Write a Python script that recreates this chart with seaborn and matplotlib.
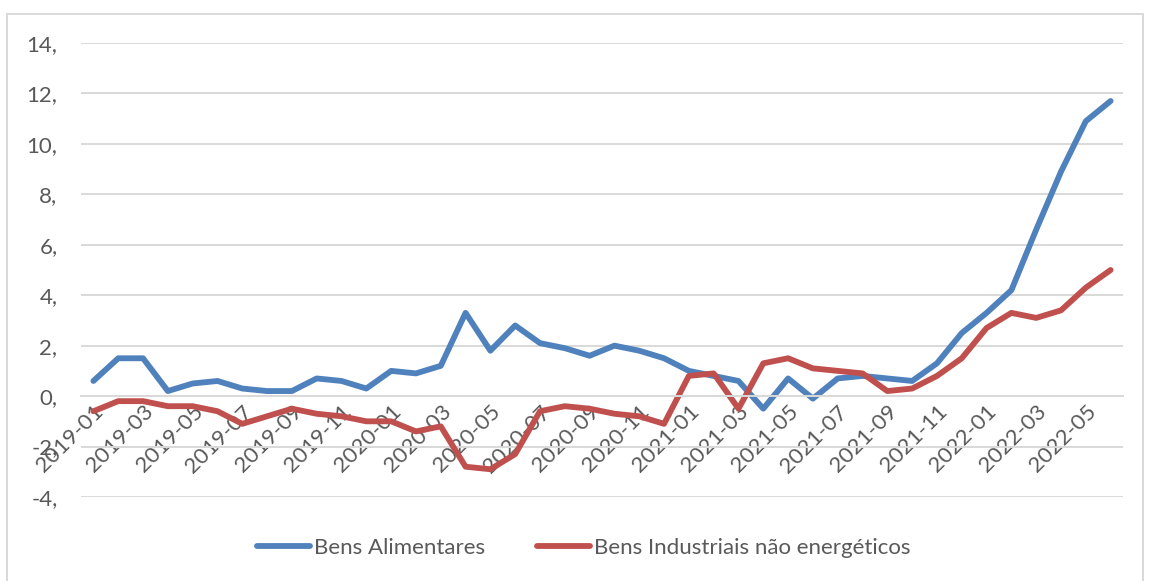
import pandas as pd
import numpy as np
import seaborn as sns
import matplotlib.pyplot as plt
from matplotlib.patches import Rectangle

months = pd.period_range("2019-01", "2022-06", freq="M").strftime("%Y-%m").tolist()

alimentares = [0.6, 1.5, 1.5, 0.2, 0.5, 0.6, 0.3, 0.2, 0.2, 0.7, 0.6, 0.3,
               1.0, 0.9, 1.2, 3.3, 1.8, 2.8, 2.1, 1.9, 1.6, 2.0, 1.8, 1.5,
               1.0, 0.8, 0.6, -0.5, 0.7, -0.1, 0.7, 0.8, 0.7, 0.6, 1.3, 2.5,
               3.3, 4.2, 6.6, 8.9, 10.9, 11.7]
industriais = [-0.6, -0.2, -0.2, -0.4, -0.4, -0.6, -1.1, -0.8, -0.5, -0.7, -0.8, -1.0,
               -1.0, -1.4, -1.2, -2.8, -2.9, -2.3, -0.6, -0.4, -0.5, -0.7, -0.8, -1.1,
               0.8, 0.9, -0.5, 1.3, 1.5, 1.1, 1.0, 0.9, 0.2, 0.3, 0.8, 1.5,
               2.7, 3.3, 3.1, 3.4, 4.3, 5.0]
series_names = ["Bens Alimentares", "Bens Industriais não energéticos"]
yticks = [-4, -2, 0, 2, 4, 6, 8, 10, 12, 14]

df = pd.DataFrame({"mes": months, series_names[0]: alimentares, series_names[1]: industriais})
df["pos"] = np.arange(len(df))
long_df = df.melt(id_vars=["mes", "pos"], var_name="serie", value_name="valor")

sns.set_style("white")
plt.rcParams["font.family"] = ["Lato", "DejaVu Sans"]
grey = "#595959"
fs = 16

fig = plt.figure(figsize=(11.49, 5.81), dpi=100)
ax = fig.add_axes([0.0705, 0.1446, 0.9069, 0.7814])

sns.lineplot(data=long_df, x="pos", y="valor", hue="serie",
             palette=["#4F81BD", "#C0504D"], linewidth=4.2, ax=ax, legend=False)
for ln in ax.lines:
    ln.set_solid_capstyle("round")
    ln.set_solid_joinstyle("round")

ax.set_xlim(-0.5, len(months) - 0.5)
ax.set_ylim(-4, 14)
ax.set_yticks(yticks)
ax.set_yticklabels([f"{v}," for v in yticks], color=grey, fontsize=fs)
ax.yaxis.grid(True, color="#D9D9D9", linewidth=1.4)
ax.set_axisbelow(True)
ax.tick_params(axis="y", length=0, pad=17)

ax.spines["bottom"].set_position(("data", 0))
ax.spines["bottom"].set_color("#D9D9D9")
ax.spines["bottom"].set_linewidth(1.4)
for s in ["top", "right", "left"]:
    ax.spines[s].set_visible(False)
xt = df["pos"].tolist()[::2]
ax.set_xticks(xt)
ax.set_xticklabels(months[::2], rotation=45, ha="right", rotation_mode="anchor",
                   color=grey, fontsize=fs)
ax.tick_params(axis="x", length=0, pad=4)
ax.set_xlabel("")
ax.set_ylabel("")

handles = [plt.Line2D([], [], color=c, linewidth=4.2, solid_capstyle="round")
           for c in ["#4F81BD", "#C0504D"]]
fig.legend(handles, series_names, loc="center", bbox_to_anchor=(0.508, 1 - 548 / 581),
           ncol=2, frameon=False, fontsize=fs, handlelength=2.4, handletextpad=0.2,
           columnspacing=2.3, labelcolor=grey)

fig.patches.append(Rectangle((7 / 1149, -0.01), 1136 / 1149, 1 - 14 / 581 + 0.01,
                             transform=fig.transFigure, fill=False,
                             edgecolor="#D9D9D9", linewidth=1.4))

fig.savefig("out.png", dpi=100)
